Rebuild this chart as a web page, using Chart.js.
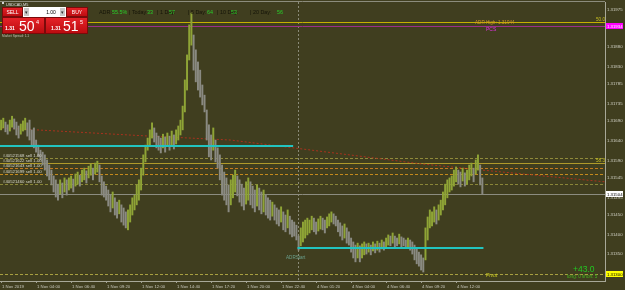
<!DOCTYPE html>
<html><head><meta charset="utf-8">
<script src="https://cdn.jsdelivr.net/npm/chart.js@4.4.1/dist/chart.umd.min.js"></script>
<style>
html,body{margin:0;padding:0;background:#403e1f;overflow:hidden;}
#wrap{position:relative;width:625px;height:290px;}
</style></head><body>
<div id="wrap"><canvas id="c" width="625" height="290"></canvas></div>
<script>
// ---- DATA (USDCAD M5, grouped in 10-minute slots) ----
const highs = [
1.31693,1.31698,1.31688,1.31681,1.31693,1.31703,1.31696,1.31688,1.31678,1.31683,
1.31691,1.31698,1.31686,1.31693,1.31668,1.31673,1.31642,1.31629,1.31616,1.31611,
1.31604,1.31591,1.31578,1.31565,1.31550,1.31540,1.31529,1.31540,1.31532,1.31545,
1.31540,1.31545,1.31550,1.31542,1.31555,1.31560,1.31552,1.31565,1.31570,1.31563,
1.31575,1.31581,1.31570,1.31583,1.31588,1.31578,1.31550,1.31535,1.31524,1.31514,
1.31501,1.31509,1.31494,1.31483,1.31488,1.31476,1.31468,1.31458,1.31463,1.31476,
1.31494,1.31501,1.31527,1.31540,1.31570,1.31604,1.31629,1.31647,1.31668,1.31686,
1.31673,1.31660,1.31652,1.31647,1.31657,1.31650,1.31660,1.31652,1.31665,1.31655,
1.31668,1.31678,1.31693,1.31729,1.31796,1.31860,1.31937,1.31967,1.31911,1.31873,
1.31842,1.31821,1.31783,1.31757,1.31719,1.31681,1.31655,1.31673,1.31642,1.31622,
1.31604,1.31578,1.31560,1.31545,1.31527,1.31540,1.31552,1.31565,1.31550,1.31540,
1.31529,1.31519,1.31535,1.31545,1.31535,1.31524,1.31514,1.31527,1.31519,1.31509,
1.31514,1.31501,1.31494,1.31488,1.31483,1.31476,1.31468,1.31463,1.31471,1.31458,
1.31450,1.31463,1.31447,1.31437,1.31432,1.31424,1.31396,1.31417,1.31432,1.31437,
1.31442,1.31437,1.31447,1.31442,1.31432,1.31440,1.31447,1.31442,1.31437,1.31445,
1.31453,1.31458,1.31453,1.31447,1.31437,1.31430,1.31422,1.31427,1.31417,1.31407,
1.31391,1.31381,1.31373,1.31378,1.31371,1.31376,1.31381,1.31376,1.31378,1.31373,
1.31381,1.31376,1.31383,1.31378,1.31386,1.31381,1.31391,1.31399,1.31396,1.31404,
1.31396,1.31391,1.31401,1.31394,1.31391,1.31386,1.31391,1.31386,1.31381,1.31373,
1.31366,1.31355,1.31348,1.31340,1.31417,1.31445,1.31463,1.31458,1.31471,1.31463,
1.31476,1.31488,1.31509,1.31529,1.31540,1.31545,1.31550,1.31565,1.31573,1.31565,
1.31560,1.31570,1.31558,1.31565,1.31578,1.31583,1.31570,1.31591,1.31604,1.31578,1.31545
];
const lows = [
1.31668,1.31673,1.31663,1.31657,1.31665,1.31675,1.31670,1.31655,1.31647,1.31657,
1.31665,1.31668,1.31652,1.31642,1.31629,1.31622,1.31611,1.31601,1.31591,1.31578,
1.31565,1.31550,1.31540,1.31527,1.31509,1.31496,1.31488,1.31504,1.31494,1.31509,
1.31501,1.31514,1.31519,1.31509,1.31524,1.31529,1.31524,1.31535,1.31540,1.31532,
1.31545,1.31552,1.31540,1.31555,1.31560,1.31535,1.31501,1.31496,1.31488,1.31473,
1.31458,1.31468,1.31450,1.31442,1.31453,1.31432,1.31424,1.31417,1.31412,1.31432,
1.31450,1.31463,1.31476,1.31488,1.31514,1.31552,1.31586,1.31616,1.31629,1.31647,
1.31637,1.31622,1.31616,1.31609,1.31622,1.31611,1.31627,1.31616,1.31629,1.31619,
1.31632,1.31642,1.31655,1.31668,1.31714,1.31770,1.31847,1.31885,1.31821,1.31791,
1.31770,1.31752,1.31732,1.31714,1.31642,1.31599,1.31591,1.31616,1.31586,1.31570,
1.31540,1.31501,1.31488,1.31476,1.31458,1.31476,1.31494,1.31509,1.31499,1.31483,
1.31473,1.31463,1.31478,1.31488,1.31476,1.31468,1.31458,1.31473,1.31463,1.31453,
1.31458,1.31450,1.31442,1.31437,1.31447,1.31437,1.31427,1.31422,1.31432,1.31412,
1.31407,1.31417,1.31401,1.31394,1.31396,1.31386,1.31360,1.31371,1.31381,1.31391,
1.31399,1.31404,1.31412,1.31407,1.31401,1.31409,1.31414,1.31412,1.31404,1.31417,
1.31422,1.31432,1.31427,1.31422,1.31407,1.31396,1.31386,1.31391,1.31378,1.31373,
1.31355,1.31340,1.31330,1.31340,1.31330,1.31340,1.31348,1.31350,1.31355,1.31348,
1.31358,1.31353,1.31360,1.31355,1.31363,1.31360,1.31368,1.31373,1.31371,1.31378,
1.31368,1.31371,1.31376,1.31368,1.31371,1.31368,1.31368,1.31360,1.31350,1.31335,
1.31325,1.31319,1.31309,1.31304,1.31335,1.31386,1.31417,1.31422,1.31432,1.31427,
1.31437,1.31450,1.31463,1.31476,1.31494,1.31509,1.31514,1.31524,1.31535,1.31529,
1.31522,1.31537,1.31524,1.31529,1.31540,1.31550,1.31535,1.31555,1.31565,1.31527,1.31504
];
const timeTickSlots = [0,16,32,48,64,80,96,112,128,144,160,176,192,208];
const timeTickLabels = ["1 Nov 2019","1 Nov 04:00","1 Nov 06:40","1 Nov 09:20","1 Nov 12:00","1 Nov 14:40","1 Nov 17:20","1 Nov 20:00","1 Nov 22:40","4 Nov 01:20","4 Nov 04:00","4 Nov 06:40","4 Nov 09:20","4 Nov 12:00"];
const priceTicks = [1.31975,1.31930,1.31880,1.31830,1.31785,1.31735,1.31690,1.31640,1.31590,1.31545,1.31495,1.31450,1.31400,1.31350];
const maSlots = [0,68,105,192,220,276];
const maValues = [1.31673,1.31652,1.31642,1.31581,1.31565,1.31535];
const orderTickets = ["#40521568 sell 1.00","#40521622 sell 1.00","#40521643 sell 1.00","#40521699 sell 1.00","#40521460 sell 1.00"];
const orderPrices = [1.31596,1.31583,1.31570,1.31555,1.31529];
const rangeLevels = [1.31627,1.31365];
const rangeStartSlots = [0,136];
const rangeEndSlots = [133,220];
const adrHigh = 1.31944;
const pcsLevel = 1.31934;
const bidPrice = 1.31504;
const pivotLevel = 1.31300;
const adrStartSlot = 136;
const adrNames = ["ADR:","| Today:","| 1 Day:","| 5 Day:","| 10 Day:","| 20 Day:"];
const adrValues = ["55.5%","33","57","64","53","56"];
const profitText = "+43.0";
const positionText = "long: 0 short: 5";

// ---- STYLE / LAYOUT ----
const SLOT_W = 2.1875, PLOT_W = 605;
const FONT = 'Liberation Sans';
const mids = highs.map((h,i)=>(h+lows[i])/2);
const barColors = mids.map((m,i)=> (i===0 || m>=mids[i-1]) ? '#8fa436' : '#8a8a82');

function hline(ctx,y,x0,x1,color,w,dash){
  ctx.save(); ctx.strokeStyle=color; ctx.lineWidth=w; ctx.setLineDash(dash||[]);
  const yy = Math.round(y)+(w%2?0.5:0);
  ctx.beginPath(); ctx.moveTo(x0,yy); ctx.lineTo(x1,yy); ctx.stroke(); ctx.restore();
}
function txt(ctx,s,x,y,color,size,align,weight){
  ctx.fillStyle=color; ctx.font=(weight||'normal')+' '+size+'px "'+FONT+'"';
  ctx.textAlign=align||'left'; ctx.textBaseline='alphabetic'; ctx.fillText(s,x,y);
}

const overlay = {
  id:'overlay',
  beforeDatasetsDraw(chart){
    const {ctx, chartArea:a, scales:{x,y}} = chart;
    ctx.save();
    ctx.beginPath(); ctx.rect(a.left,a.top,a.right-a.left,a.bottom-a.top); ctx.clip();
    const vx = Math.round(x.getPixelForValue(adrStartSlot-0.5))+0.5;
    ctx.strokeStyle='#8a8a78'; ctx.lineWidth=1; ctx.setLineDash([2,2]);
    ctx.beginPath(); ctx.moveTo(vx,a.top); ctx.lineTo(vx,a.bottom); ctx.stroke(); ctx.setLineDash([]);
    hline(ctx,y.getPixelForValue(adrHigh),a.left,a.right,'#c4b000',1);
    hline(ctx,y.getPixelForValue(pcsLevel),a.left,a.right,'#9a2f88',1);
    const oc = ['#908a3a','#b09a2a','#c47a1e','#c48a1c','#8a8638'];
    const od = [[3,2],[],[3,2],[3,2],[3,2]];
    orderPrices.forEach((p,i)=>hline(ctx,y.getPixelForValue(p),a.left,a.right,oc[i],1,od[i]));
    hline(ctx,y.getPixelForValue(bidPrice),a.left,a.right,'#8c8c80',1);
    hline(ctx,y.getPixelForValue(pivotLevel),a.left,a.right,'#a8a040',1,[3,2]);
    ctx.restore();
  },
  afterDatasetsDraw(chart){
    const {ctx, chartArea:a, scales:{x,y}} = chart;
    ctx.save();
    rangeLevels.forEach((p,i)=>{
      hline(ctx,y.getPixelForValue(p),x.getPixelForValue(rangeStartSlots[i]-0.5),x.getPixelForValue(rangeEndSlots[i]+0.5),'#22c4c0',2);
    });
    orderTickets.forEach((t,i)=>{
      txt(ctx,t,3,Math.round(y.getPixelForValue(orderPrices[i]))-1,'#d8d8cc',4.3);
    });
    txt(ctx,'ADR High: '+adrHigh.toFixed(5),475,Math.round(y.getPixelForValue(adrHigh))+2,'#d49a24',4.6);
    txt(ctx,'PCS',486,Math.round(y.getPixelForValue(pcsLevel))+5,'#e030e0',5);
    txt(ctx,'50.0',a.right,Math.round(y.getPixelForValue(adrHigh))-1,'#c8c020',4.6,'right');
    txt(ctx,'58.3',a.right,Math.round(y.getPixelForValue(orderPrices[0]))+4,'#c8c020',4.6,'right');
    txt(ctx,'Pivot',486,Math.round(y.getPixelForValue(pivotLevel))+3,'#c8c820',5);
    txt(ctx,'ADRStart',286,Math.round(y.getPixelForValue(rangeLevels[1]))+11,'#6aa08c',4.6);
    txt(ctx,profitText,573,272,'#22c822',8.5);
    txt(ctx,positionText,567,278,'#44b420',4.6);
    ctx.restore();
  },
  afterDraw(chart){
    const {ctx, chartArea:a, scales:{x,y}} = chart;
    ctx.save();
    timeTickSlots.forEach((s,i)=>{
      txt(ctx,timeTickLabels[i],Math.round(x.getPixelForValue(s))+1,a.bottom+7,'#c8c8bc',4.3);
    });
    hline(ctx,1,0,a.right,'#8c8c7c',1);
    ctx.fillStyle='#d0d0d0'; ctx.fillRect(2,2,2,2);
    txt(ctx,'USDCAD,M5',6,5.5,'#e0e0e0',3.8);
    const box=(p,bg,fg)=>{ const yy=Math.round(y.getPixelForValue(p)); ctx.fillStyle=bg; ctx.fillRect(606,yy-3,17,6); txt(ctx,p.toFixed(5),607,yy+1.6,fg,4.3); };
    box(pcsLevel,'#ff00ff','#ffffff');
    box(bidPrice,'#ffffff','#000000');
    box(pivotLevel,'#ffff00','#000000');
    const red=(x0,y0,w,h)=>{ const g=ctx.createLinearGradient(0,y0,0,y0+h); g.addColorStop(0,'#e8242a'); g.addColorStop(1,'#b80a0e'); ctx.fillStyle=g; ctx.fillRect(x0,y0,w,h); ctx.strokeStyle='#7a0a0a'; ctx.lineWidth=1; ctx.strokeRect(x0+0.5,y0+0.5,w-1,h-1); };
    red(2,7,21,10); red(66,7,22,10);
    ctx.fillStyle='#ffffff'; ctx.fillRect(23,7,43,10);
    ctx.fillStyle='#c8c8c8'; ctx.fillRect(24,8,5,8); ctx.fillRect(60,8,5,8);
    txt(ctx,'▾',25,14,'#303030',5); txt(ctx,'▾',61,14,'#303030',5);
    txt(ctx,'SELL',12.5,14,'#ffffff',5,'center');
    txt(ctx,'1.00',51,14,'#000000',5,'center');
    txt(ctx,'BUY',77,14,'#ffffff',5,'center');
    red(2,17,43,17); red(45,17,43,17);
    txt(ctx,'1.31',5,30,'#ffffff',5,'left','bold');
    txt(ctx,'50',19,31,'#ffffff',14);
    txt(ctx,'4',36,24,'#ffffff',5.5);
    txt(ctx,'1.31',51,30,'#ffffff',5,'left','bold');
    txt(ctx,'51',63,31,'#ffffff',14);
    txt(ctx,'5',80,24,'#ffffff',5.5);
    txt(ctx,'Market Spread: 1.1',2,37,'#c0c0b0',3.2);
    const nx=[99,129,157,188,217,250], vx=[112,147,169,207,231,277];
    adrNames.forEach((n,i)=>{ txt(ctx,n,nx[i],14,'#141408',5.4); txt(ctx,adrValues[i],vx[i],14,'#28d028',5.4); });
    ctx.restore();
  }
};

new Chart(document.getElementById('c'),{
  type:'bar',
  data:{datasets:[
    {type:'line', data:maSlots.map((s,i)=>({x:s,y:maValues[i]})), borderColor:'#a8321e', borderWidth:1, borderDash:[2,2], pointRadius:0, order:2},
    {type:'bar', data:highs.map((h,i)=>({x:i,y:[lows[i],h]})), backgroundColor:barColors, barThickness:1.3, borderWidth:0, order:1}
  ]},
  options:{
    responsive:false, animation:false,
    layout:{padding:{top:2,left:0,right:0,bottom:0}},
    plugins:{legend:{display:false},tooltip:{enabled:false}},
    scales:{
      x:{type:'linear', offset:false, min:-0.5, max:PLOT_W/SLOT_W-0.5,
        afterBuildTicks:s=>{ s.ticks = timeTickSlots.map(v=>({value:v})); },
        afterFit:s=>{ s.height=9; s.paddingLeft=0; s.paddingRight=0; },
        ticks:{display:false},
        grid:{offset:false, drawOnChartArea:false, drawTicks:true, tickLength:2, color:'#a0a090'},
        border:{display:true, color:'#a8a898', width:1}
      },
      y:{position:'right', min:1.31281, max:1.319955,
        afterBuildTicks:s=>{ s.ticks = priceTicks.map(v=>({value:v})); },
        afterFit:s=>{ s.width=20; s.paddingTop=0; s.paddingBottom=0; },
        ticks:{autoSkip:false, padding:1, color:'#d0d0c4', font:{size:4.3,family:FONT}, callback:v=>Number(v).toFixed(5)},
        grid:{drawOnChartArea:false, drawTicks:true, tickLength:1, color:'#a0a090'},
        border:{display:true, color:'#a8a898', width:1}
      }
    }
  },
  plugins:[overlay]
});
</script>
</body></html>
